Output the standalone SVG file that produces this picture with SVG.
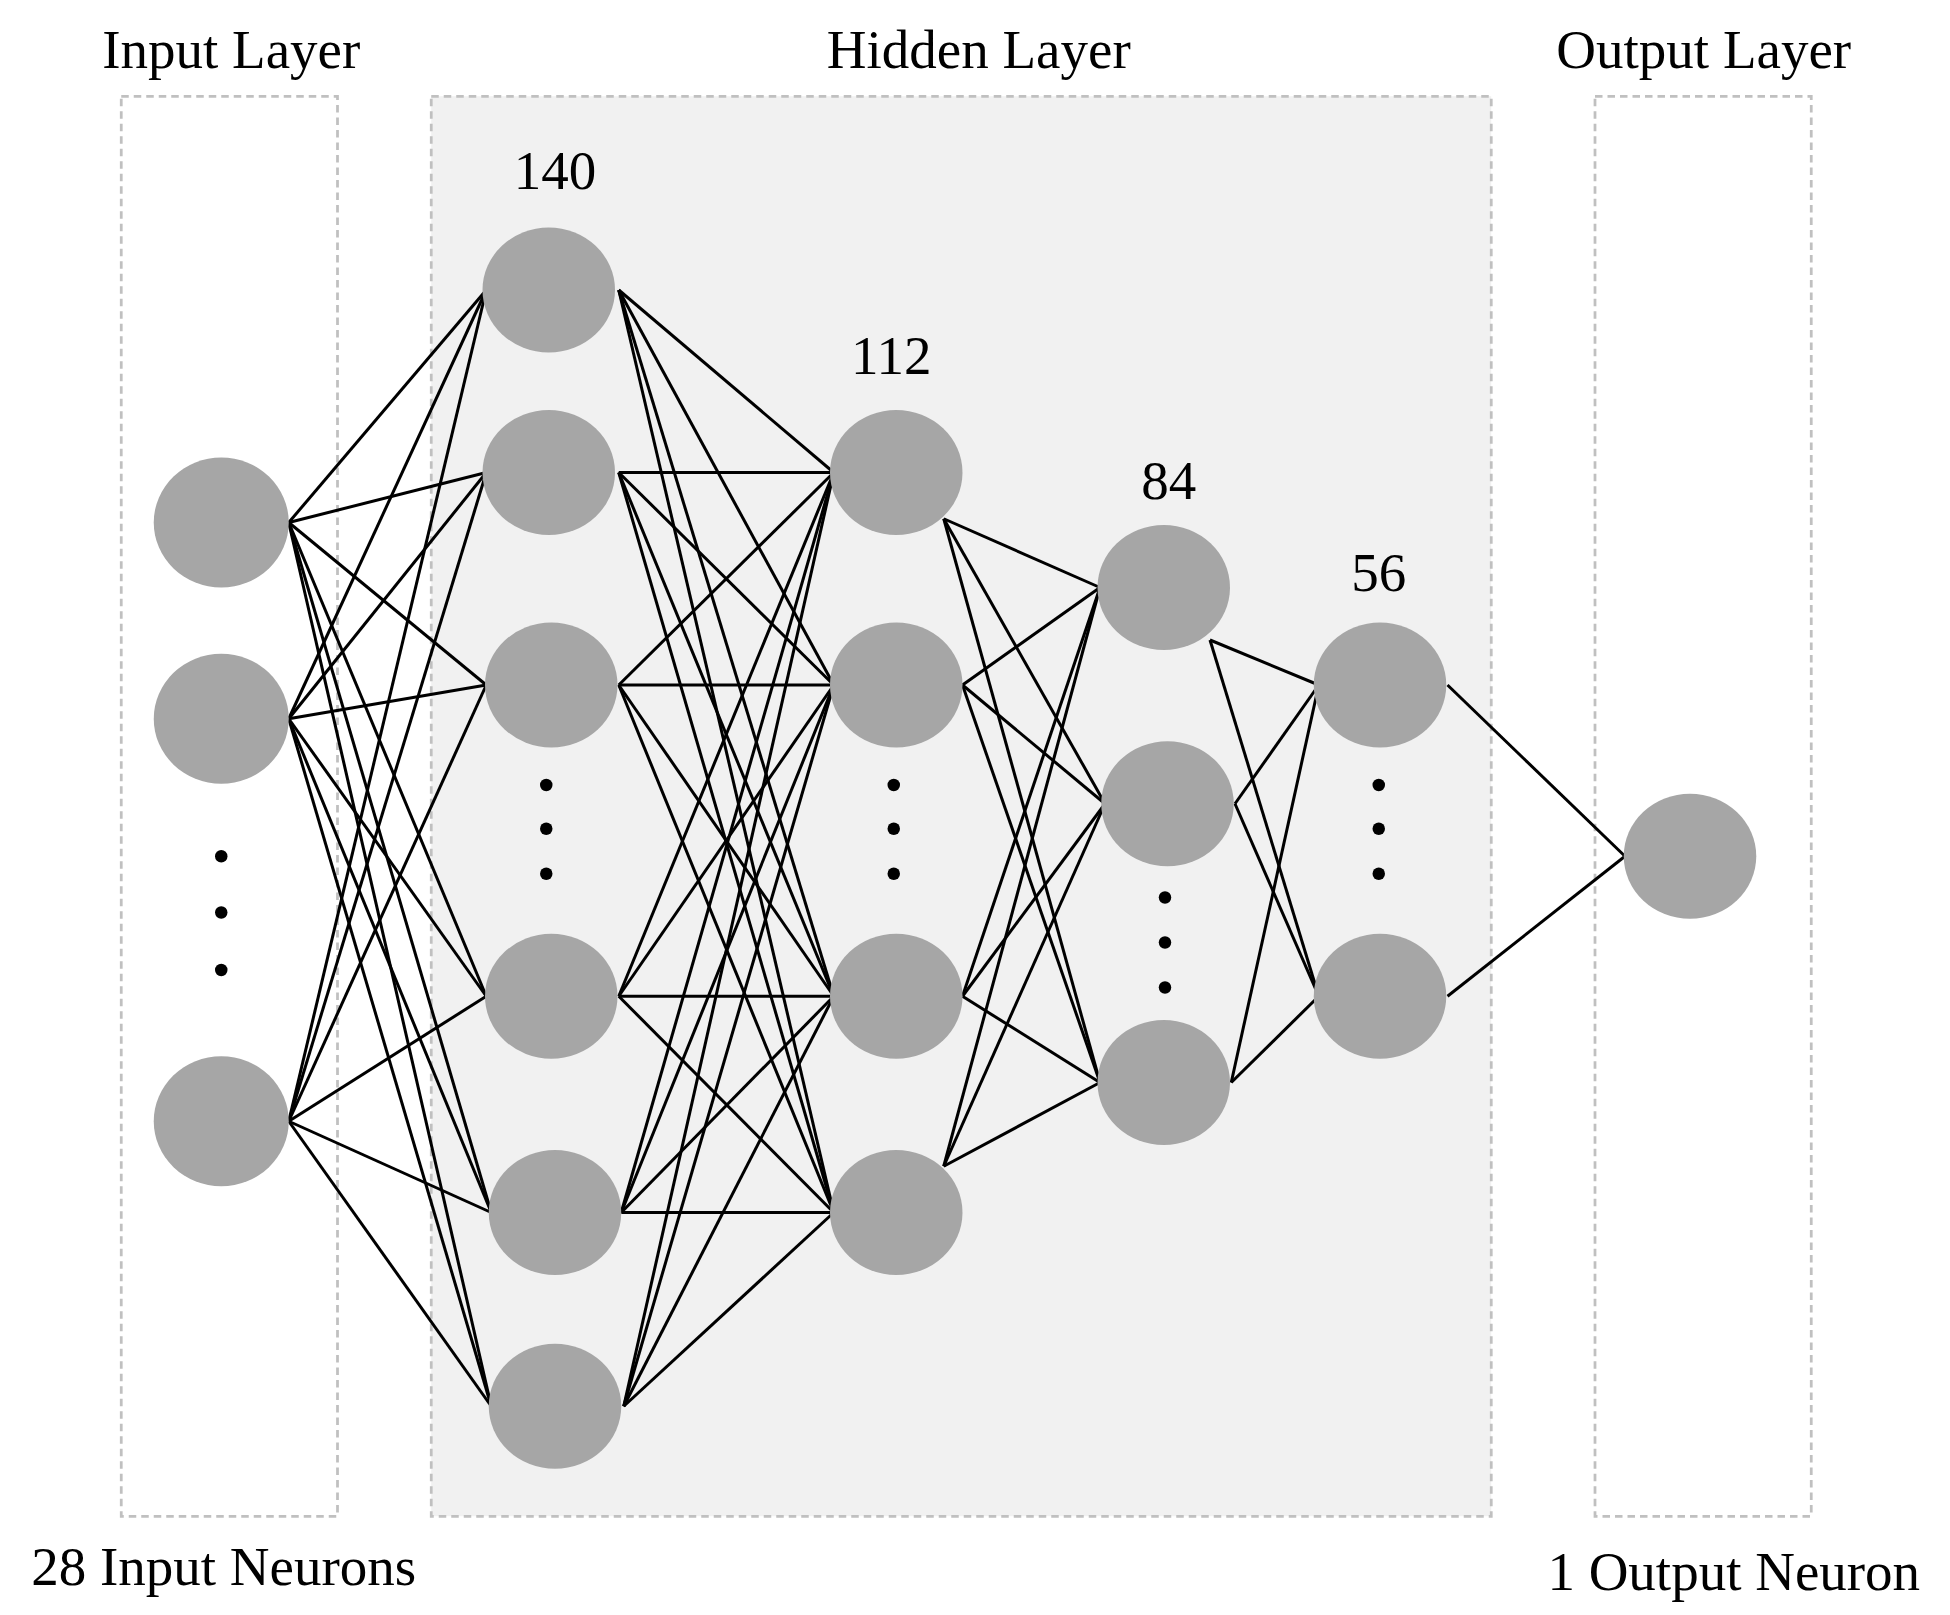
<svg xmlns="http://www.w3.org/2000/svg" width="1950" height="1615" viewBox="0 0 1950 1615">
<style>
.box{fill:none;stroke:#c0c0c0;stroke-width:2.2;stroke-dasharray:6 4}
.n{fill:#a6a6a6}
.t{font-family:"Liberation Serif",serif;font-size:44px;fill:#000;text-anchor:middle}
.e line{stroke:#000;stroke-width:2.4}
.d{fill:#000}
</style>
<rect width="1950" height="1615" fill="#fff"/>
<g transform="scale(1.25)">
<rect x="345" y="77" width="848" height="1136" fill="#f1f1f1" stroke="none"/>
<g id="input-box"><rect class="box" x="97" y="77" width="173" height="1136"/></g>
<g id="hidden-box"><rect class="box" x="345" y="77" width="848" height="1136"/></g>
<g id="output-box"><rect class="box" x="1276" y="77" width="173" height="1136"/></g>
<text class="t" x="185" y="54">Input Layer</text>
<text class="t" x="783" y="54">Hidden Layer</text>
<text class="t" x="1363" y="54">Output Layer</text>
<text class="t" x="179" y="1268">28 Input Neurons</text>
<text class="t" x="1387" y="1272">1 Output Neuron</text>
<text class="t" x="444" y="151">140</text>
<text class="t" x="713" y="299">112</text>
<text class="t" x="935" y="399">84</text>
<text class="t" x="1103" y="473">56</text>
<g id="connectors" class="e">
<line x1="231" y1="418" x2="389" y2="232"/><line x1="231" y1="418" x2="389" y2="378"/><line x1="231" y1="418" x2="389" y2="548"/><line x1="231" y1="418" x2="389" y2="797"/><line x1="231" y1="418" x2="393" y2="970"/><line x1="231" y1="418" x2="393" y2="1125"/>
<line x1="231" y1="575" x2="389" y2="232"/><line x1="231" y1="575" x2="389" y2="378"/><line x1="231" y1="575" x2="389" y2="548"/><line x1="231" y1="575" x2="389" y2="797"/><line x1="231" y1="575" x2="393" y2="970"/><line x1="231" y1="575" x2="393" y2="1125"/>
<line x1="231" y1="897" x2="389" y2="232"/><line x1="231" y1="897" x2="389" y2="378"/><line x1="231" y1="897" x2="389" y2="548"/><line x1="231" y1="897" x2="389" y2="797"/><line x1="231" y1="897" x2="393" y2="970"/><line x1="231" y1="897" x2="393" y2="1125"/>
<line x1="495" y1="232" x2="667" y2="378"/><line x1="495" y1="232" x2="667" y2="548"/><line x1="495" y1="232" x2="667" y2="797"/><line x1="495" y1="232" x2="667" y2="970"/>
<line x1="495" y1="378" x2="667" y2="378"/><line x1="495" y1="378" x2="667" y2="548"/><line x1="495" y1="378" x2="667" y2="797"/><line x1="495" y1="378" x2="667" y2="970"/>
<line x1="495" y1="548" x2="667" y2="378"/><line x1="495" y1="548" x2="667" y2="548"/><line x1="495" y1="548" x2="667" y2="797"/><line x1="495" y1="548" x2="667" y2="970"/>
<line x1="495" y1="797" x2="667" y2="378"/><line x1="495" y1="797" x2="667" y2="548"/><line x1="495" y1="797" x2="667" y2="797"/><line x1="495" y1="797" x2="667" y2="970"/>
<line x1="497" y1="970" x2="667" y2="378"/><line x1="497" y1="970" x2="667" y2="548"/><line x1="497" y1="970" x2="667" y2="797"/><line x1="497" y1="970" x2="667" y2="970"/>
<line x1="499" y1="1125" x2="667" y2="378"/><line x1="499" y1="1125" x2="667" y2="548"/><line x1="499" y1="1125" x2="667" y2="797"/><line x1="499" y1="1125" x2="667" y2="970"/>
<line x1="755" y1="415" x2="880" y2="470"/><line x1="755" y1="415" x2="884" y2="643"/><line x1="755" y1="415" x2="880" y2="866"/>
<line x1="770" y1="548" x2="880" y2="470"/><line x1="770" y1="548" x2="884" y2="643"/><line x1="770" y1="548" x2="880" y2="866"/>
<line x1="770" y1="797" x2="880" y2="470"/><line x1="770" y1="797" x2="884" y2="643"/><line x1="770" y1="797" x2="880" y2="866"/>
<line x1="755" y1="933" x2="880" y2="470"/><line x1="755" y1="933" x2="884" y2="643"/><line x1="755" y1="933" x2="880" y2="866"/>
<line x1="968" y1="512" x2="1055" y2="548"/><line x1="968" y1="512" x2="1055" y2="797"/>
<line x1="988" y1="643" x2="1055" y2="548"/><line x1="988" y1="643" x2="1055" y2="797"/>
<line x1="985" y1="866" x2="1055" y2="548"/><line x1="985" y1="866" x2="1055" y2="797"/>
<line x1="1158" y1="548" x2="1300" y2="685"/><line x1="1158" y1="797" x2="1300" y2="685"/>
</g>
<g id="in1"><ellipse class="n" cx="177" cy="418" rx="54" ry="52"/></g>
<g id="in2"><ellipse class="n" cx="177" cy="575" rx="54" ry="52"/></g>
<g id="in3"><ellipse class="n" cx="177" cy="897" rx="54" ry="52"/></g>
<g id="in-dots"><circle class="d" cx="177" cy="685" r="5"/><circle class="d" cx="177" cy="730" r="5"/><circle class="d" cx="177" cy="776" r="5"/></g>
<g id="h1a"><ellipse class="n" cx="439" cy="232" rx="53" ry="50"/></g>
<g id="h1b"><ellipse class="n" cx="439" cy="378" rx="53" ry="50"/></g>
<g id="h1c"><ellipse class="n" cx="441" cy="548" rx="53" ry="50"/></g>
<g id="h1d"><ellipse class="n" cx="441" cy="797" rx="53" ry="50"/></g>
<g id="h1e"><ellipse class="n" cx="444" cy="970" rx="53" ry="50"/></g>
<g id="h1f"><ellipse class="n" cx="444" cy="1125" rx="53" ry="50"/></g>
<g id="h1-dots"><circle class="d" cx="437" cy="628" r="5"/><circle class="d" cx="437" cy="663" r="5"/><circle class="d" cx="437" cy="699" r="5"/></g>
<g id="h2a"><ellipse class="n" cx="717" cy="378" rx="53" ry="50"/></g>
<g id="h2b"><ellipse class="n" cx="717" cy="548" rx="53" ry="50"/></g>
<g id="h2c"><ellipse class="n" cx="717" cy="797" rx="53" ry="50"/></g>
<g id="h2d"><ellipse class="n" cx="717" cy="970" rx="53" ry="50"/></g>
<g id="h2-dots"><circle class="d" cx="715" cy="628" r="5"/><circle class="d" cx="715" cy="663" r="5"/><circle class="d" cx="715" cy="699" r="5"/></g>
<g id="h3a"><ellipse class="n" cx="931" cy="470" rx="53" ry="50"/></g>
<g id="h3b"><ellipse class="n" cx="934" cy="643" rx="53" ry="50"/></g>
<g id="h3c"><ellipse class="n" cx="931" cy="866" rx="53" ry="50"/></g>
<g id="h3-dots"><circle class="d" cx="932" cy="718" r="5"/><circle class="d" cx="932" cy="754" r="5"/><circle class="d" cx="932" cy="790" r="5"/></g>
<g id="h4a"><ellipse class="n" cx="1104" cy="548" rx="53" ry="50"/></g>
<g id="h4b"><ellipse class="n" cx="1104" cy="797" rx="53" ry="50"/></g>
<g id="h4-dots"><circle class="d" cx="1103" cy="628" r="5"/><circle class="d" cx="1103" cy="663" r="5"/><circle class="d" cx="1103" cy="699" r="5"/></g>
<g id="out"><ellipse class="n" cx="1352" cy="685" rx="53" ry="50"/></g>
</g>
</svg>
